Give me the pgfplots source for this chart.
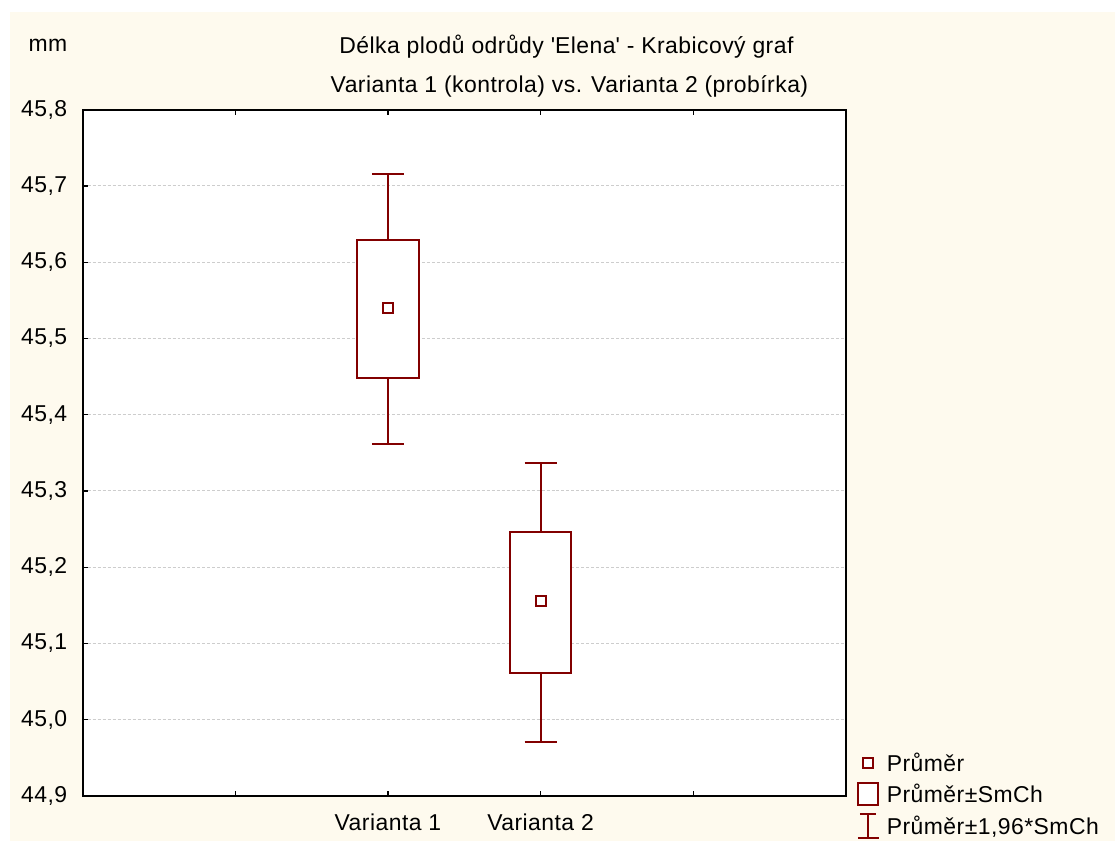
\documentclass[border=0pt]{standalone}
\usepackage{fontspec}
\setmainfont{Liberation Sans}[LetterSpace=2]
\usepackage{pgfplots}
\pgfplotsset{compat=1.18}
\definecolor{cream}{RGB}{254,250,238}
\definecolor{darkred}{RGB}{130,0,0}
\definecolor{gridgray}{RGB}{205,205,205}
\begin{document}
\newcommand{\bigfont}{\fontsize{23}{27}\selectfont}
\begin{tikzpicture}
\path[use as bounding box] (0pt,0pt) rectangle (1115pt,843pt);
\fill[white] (0pt,0pt) rectangle (1115pt,843pt);
\fill[cream] (7pt,0pt) rectangle (1115pt,831pt);
\begin{axis}[
  at={(80pt,45pt)}, anchor=south west,
  scale only axis, width=765pt, height=688pt,
  xmin=0, xmax=5, ymin=44.9, ymax=45.8,
  xtick={1,2,3,4}, xticklabels={,Varianta 1,Varianta 2,},
  ytick={44.9,45.0,45.1,45.2,45.3,45.4,45.5,45.6,45.7,45.8},
  yticklabel style={/pgf/number format/use comma, /pgf/number format/fixed, /pgf/number format/fixed zerofill, /pgf/number format/precision=1, /pgf/number format/assume math mode=true, xshift=-12pt},
  ticklabel style={font=\bigfont},
  xticklabel style={yshift=-15pt},
  tick align=inside, major tick length=5pt,
  xtick pos=both, ytick pos=left,
  tick style={black, line width=1.2pt},
  axis line style={black, line width=2pt},
  axis background/.style={fill=white},
  ymajorgrids,
  grid style={gridgray, line width=1pt, dash pattern=on 3pt off 2pt},
  unbounded coords=jump,
  reverse legend,
  legend cell align=left,
  legend style={draw=none, fill=none, font=\bigfont, at={(1.0144,0.065)}, anchor=north west, inner sep=0pt, row sep=7pt},
]
% whiskers: mean +- 1.96*SE
\addplot[draw=darkred, line width=2pt,
  legend image code/.code={
    \draw[darkred, line width=2pt] (10pt,-12pt) -- (10pt,12pt);
    \draw[darkred, line width=2pt] (2pt,12pt) -- (18pt,12pt);
    \draw[darkred, line width=2pt] (0pt,-12pt) -- (21pt,-12pt);
    \path[draw=none, fill=none] (0pt,0pt) -- (27pt,0pt);}]
  coordinates {
   (2,45.629) (2,45.716) (2,nan)
   (1.895,45.716) (2.105,45.716) (2,nan)
   (2,45.448) (2,45.361) (2,nan)
   (1.895,45.361) (2.105,45.361) (2,nan)
   (3,45.246) (3,45.336) (3,nan)
   (2.895,45.336) (3.105,45.336) (3,nan)
   (3,45.061) (3,44.971) (3,nan)
   (2.895,44.971) (3.105,44.971)
  };
\addlegendentry{Průměr±1,96*SmCh}
% boxes: mean +- SE
\addplot[draw=darkred, fill=white, line width=2pt,
  legend image code/.code={\draw[darkred, line width=2pt, fill=white] (0pt,-11pt) rectangle (20pt,11pt);
    \path[draw=none, fill=none] (0pt,0pt) -- (27pt,0pt);}]
  coordinates {(1.7975,45.448) (2.2025,45.448) (2.2025,45.629) (1.7975,45.629)} -- cycle;
\addlegendentry{Průměr±SmCh}
\addplot[draw=darkred, fill=white, line width=2pt, forget plot]
  coordinates {(2.7975,45.061) (3.2025,45.061) (3.2025,45.246) (2.7975,45.246)} -- cycle;
% means
\addplot[only marks, mark=square, mark size=5pt, draw=darkred, mark options={line width=2pt, fill=white, draw=darkred},
  legend image code/.code={\draw[darkred, line width=2pt, fill=white] (5pt,-5pt) rectangle (15pt,5pt);
    \path[draw=none, fill=none] (0pt,0pt) -- (27pt,0pt);}]
  coordinates {(2,45.540) (3,45.155)};
\addlegendentry{Průměr}
\end{axis}
\node[font=\bigfont] at (565pt,796pt) {Délka plodů odrůdy \textquotesingle Elena\textquotesingle\ - Krabicový graf};
\node[font=\bigfont] at (568pt,756pt) {Varianta 1 (kontrola) vs. Varianta 2 (probírka)};
\node[font=\bigfont] at (45pt,798pt) {mm};
\end{tikzpicture}
\end{document}
